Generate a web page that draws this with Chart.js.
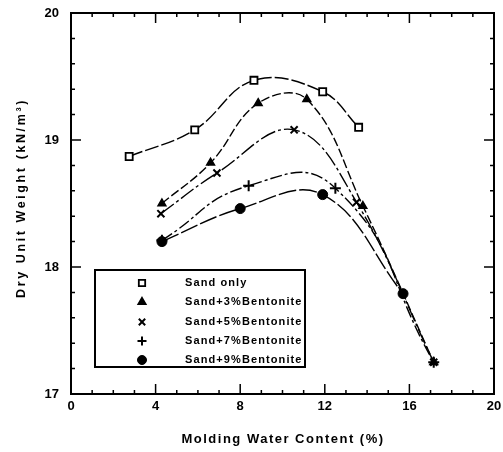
<!DOCTYPE html>
<html>
<head>
<meta charset="utf-8">
<script src="https://cdn.jsdelivr.net/npm/chart.js@4/dist/chart.umd.min.js"></script>
<style>
  html, body { margin: 0; padding: 0; background: #fff; }
  #wrap { width: 503px; height: 452px; }
</style>
</head>
<body>
<div id="wrap"><canvas id="c" width="503" height="452"></canvas></div>
<script>
// Compaction curves: dry unit weight vs. molding water content
const seriesNames = ['Sand only', 'Sand+3%Bentonite', 'Sand+5%Bentonite', 'Sand+7%Bentonite', 'Sand+9%Bentonite'];

const sandOnlyW = [2.75, 5.85, 8.65, 11.9, 13.6];
const sandOnlyG = [18.87, 19.08, 19.47, 19.38, 19.10];

const bent3W = [4.3, 6.6, 8.85, 11.15, 13.8, 17.15];
const bent3G = [18.50, 18.82, 19.29, 19.32, 18.48, 17.25];

const bent5W = [4.25, 6.9, 10.55, 13.5, 17.15];
const bent5G = [18.42, 18.74, 19.08, 18.51, 17.25];

const bent7W = [4.3, 8.4, 12.5, 17.15];
const bent7G = [18.21, 18.64, 18.62, 17.25];

const bent9W = [4.3, 8.0, 11.9, 15.7];
const bent9G = [18.20, 18.46, 18.57, 17.79];

const xTickLabels = ['0', '4', '8', '12', '16', '20'];
const yTickLabels = ['17', '18', '19', '20'];

const pairs = (w, g) => w.map((v, i) => ({ x: v, y: g[i] }));

const styles = [
  { pointStyle: 'rect', radius: 5, bg: '#fff', bw: 1.8, dash: [14, 3], tension: 0.4 },
  { pointStyle: 'triangle', radius: 4.5, bg: '#000', bw: 1.5, dash: [9, 3], tension: 0.4 },
  { pointStyle: 'crossRot', radius: 5, bg: '#000', bw: 2, dash: [16, 3, 3, 3], tension: 0.4 },
  { pointStyle: 'cross', radius: 5.5, bg: '#000', bw: 2, dash: [12, 3, 3, 3], tension: 0.5 },
  { pointStyle: 'circle', radius: 5, bg: '#000', bw: 1, dash: [18, 3], tension: 0.4 }
];
const seriesData = [
  pairs(sandOnlyW, sandOnlyG),
  pairs(bent3W, bent3G),
  pairs(bent5W, bent5G),
  pairs(bent7W, bent7G),
  pairs(bent9W, bent9G)
];

const datasets = seriesNames.map((name, i) => ({
  label: name,
  data: seriesData[i],
  showLine: true,
  tension: styles[i].tension,
  borderColor: '#000',
  borderWidth: 1.4,
  borderDash: styles[i].dash,
  pointStyle: styles[i].pointStyle,
  pointRadius: styles[i].radius,
  pointBackgroundColor: styles[i].bg,
  pointBorderColor: '#000',
  pointBorderWidth: styles[i].bw,
  fill: false
}));

// Frame, inward ticks, axis titles and the boxed legend
const framePlugin = {
  id: 'frame',
  afterDraw(chart) {
    const { ctx, chartArea: a, scales: { x, y } } = chart;
    ctx.save();
    ctx.strokeStyle = '#000';
    ctx.lineWidth = 2;
    ctx.strokeRect(a.left, a.top, a.right - a.left, a.bottom - a.top);

    ctx.lineWidth = 1.5;
    ctx.beginPath();
    for (let v = 0; v <= 20; v += 1) {
      const px = x.getPixelForValue(v);
      const len = v % 4 === 0 ? 10 : 4;
      ctx.moveTo(px, a.bottom); ctx.lineTo(px, a.bottom - len);
      ctx.moveTo(px, a.top); ctx.lineTo(px, a.top + len);
    }
    for (let k = 0; k <= 15; k++) {
      const v = 17 + k * 0.2;
      const py = y.getPixelForValue(v);
      const len = k % 5 === 0 ? 10 : 4;
      ctx.moveTo(a.left, py); ctx.lineTo(a.left + len, py);
      ctx.moveTo(a.right, py); ctx.lineTo(a.right - len, py);
    }
    ctx.stroke();

    // axis titles
    ctx.fillStyle = '#000';
    ctx.font = 'bold 13px "Liberation Sans", Arial, sans-serif';
    ctx.letterSpacing = '1.5px';
    ctx.textAlign = 'center';
    ctx.textBaseline = 'middle';
    ctx.fillText('Molding Water Content (%)', 283, 439);
    ctx.save();
    ctx.translate(22, 198);
    ctx.rotate(-Math.PI / 2);
    ctx.font = 'bold 12.5px "Liberation Sans", Arial, sans-serif';
    ctx.letterSpacing = '2.6px';
    ctx.fillText('Dry Unit Weight (kN/m\u00B3)', 0, 0);
    ctx.restore();

    // legend box
    const bx = 95, by = 270, bw = 210, bh = 97;
    ctx.lineWidth = 2;
    ctx.strokeRect(bx, by, bw, bh);
    ctx.font = 'bold 11px "Liberation Sans", Arial, sans-serif';
    ctx.letterSpacing = '1.1px';
    ctx.textAlign = 'left';
    const rowY = [283, 302, 322, 341, 360];
    chart.data.datasets.forEach((ds, i) => {
      ctx.save();
      ctx.fillStyle = ds.pointBackgroundColor;
      ctx.strokeStyle = '#000';
      ctx.lineWidth = ds.pointBorderWidth;
      Chart.helpers.drawPoint(ctx, {
        pointStyle: ds.pointStyle,
        radius: Math.min(ds.pointRadius, 4.5),
        rotation: 0,
        borderWidth: ds.pointBorderWidth
      }, 142, rowY[i]);
      ctx.restore();
      ctx.fillStyle = '#000';
      ctx.fillText(ds.label, 185, rowY[i]);
    });
    ctx.restore();
  }
};

new Chart(document.getElementById('c'), {
  type: 'scatter',
  data: { datasets },
  options: {
    responsive: false,
    animation: false,
    layout: { padding: { top: 13, right: 9, left: 0, bottom: 0 } },
    plugins: { legend: { display: false }, tooltip: { enabled: false } },
    scales: {
      x: {
        type: 'linear', min: 0, max: 20,
        grid: { display: false, drawTicks: false },
        border: { display: false },
        ticks: {
          stepSize: 4, padding: 5, color: '#000',
          font: { family: '"Liberation Sans", Arial, sans-serif', size: 13, weight: 'bold' },
          callback: (v) => xTickLabels[v / 4]
        },
        afterFit: (s) => { s.height = 58; s.paddingLeft = 0; s.paddingRight = 0; }
      },
      y: {
        type: 'linear', min: 17, max: 20,
        grid: { display: false, drawTicks: false },
        border: { display: false },
        ticks: {
          stepSize: 1, padding: 12, color: '#000',
          font: { family: '"Liberation Sans", Arial, sans-serif', size: 13, weight: 'bold' },
          callback: (v) => yTickLabels[v - 17]
        },
        afterFit: (s) => { s.width = 71; s.paddingTop = 0; s.paddingBottom = 0; }
      }
    }
  },
  plugins: [framePlugin]
});
</script>
</body>
</html>
